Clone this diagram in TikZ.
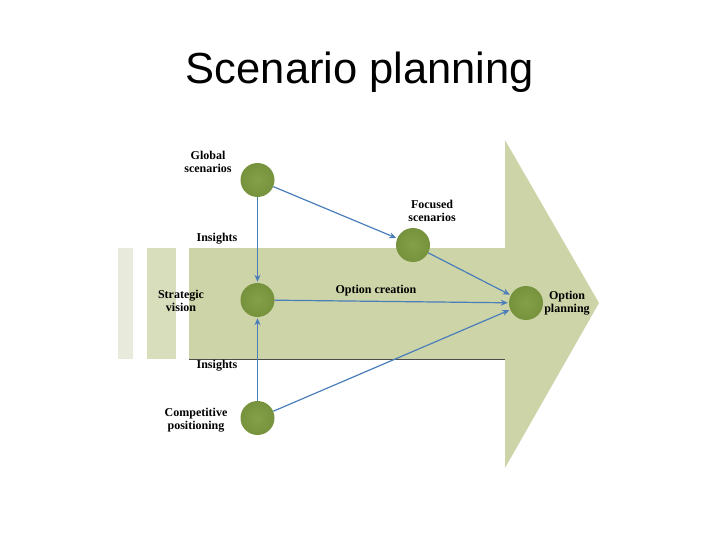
\documentclass[tikz,border=0pt]{standalone}
\usepackage{fontspec}
\setmainfont{Liberation Serif}
\newfontfamily\titlefont{Liberation Sans}
\usetikzlibrary{arrows.meta}

\definecolor{arrowfill}{RGB}{205,212,167}
\definecolor{barone}{RGB}{232,234,219}
\definecolor{bartwo}{RGB}{216,221,188}
\definecolor{ballgreen}{RGB}{118,146,60}
\definecolor{balllight}{RGB}{132,160,72}
\definecolor{linkblue}{RGB}{74,126,187}

\begin{document}
\begin{tikzpicture}[x=1pt,y=-1pt,
    stage/.style ={circle, inner color=balllight, outer color=ballgreen, inner sep=0pt, minimum size=34pt},
    caption/.style ={font=\fontsize{12}{13}\selectfont\bfseries, align=center, inner sep=0pt},
    link/.style ={draw=linkblue, line width=1.2pt, -{Stealth[length=7pt,width=6pt]}, shorten >=1pt}]
   \useasboundingbox (0,0) rectangle (720,540);

   % title
   \node[font=\titlefont\fontsize{43.5}{48}\selectfont, anchor=base] (title) at (360,84) {Scenario planning};

   % background arrow and bars
   \fill[barone] (118,248) rectangle (133,359);
   \fill[bartwo] (147,248) rectangle (176,359);
   \fill[arrowfill] (189,248) -- (505,248) -- (505,140) -- (599,303)
      -- (505,468) -- (505,359) -- (189,359) -- cycle;
   \draw[black!70, line width=0.8pt] (189,359) -- (505,359);

   % stages
   \node[stage] (G) at (257.5,180) {};
   \node[stage] (S) at (257.5,300) {};
   \node[stage] (C) at (257.5,418) {};
   \node[stage] (F) at (413,245) {};
   \node[stage] (P) at (526,303) {};

   % labels
   \node[caption] (gl) at (208,162) {Global\\scenarios};
   \node[caption] (i1) at (217,239) {Insights};
   \node[caption] (sl) at (181,301) {Strategic\\vision};
   \node[caption] (i2) at (217,366) {Insights};
   \node[caption] (cl) at (196,420) {Competitive\\positioning};
   \node[caption] (fl) at (432,211) {Focused\\scenarios};
   \node[caption] (oc) at (376,291) {Option creation};
   \node[caption] (pl) at (567,303) {Option\\planning};

   % links
   \draw[link] (G) to (S);
   \draw[link] (C) to (S);
   \draw[link] (G) to (F);
   \draw[link] (F) to (P);
   \draw[link] (S) to (P);
   \draw[link] (C) to (P);
 \end{tikzpicture}
\end{document}
